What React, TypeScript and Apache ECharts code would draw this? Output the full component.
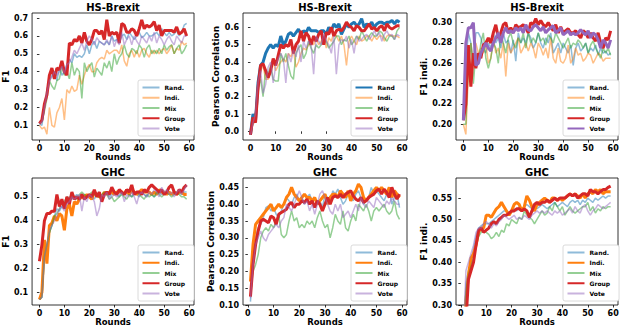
import React, { useEffect, useRef } from "react";
import * as echarts from "echarts";

const NAMES = ["Rand.", "Indi.", "Mix", "Group", "Vote"];
const NAMES_P2 = ["Rand", "Indi.", "Mix", "Group", "Vote"];
const COLORS = ["#1f77b4", "#ff7f0e", "#2ca02c", "#d62728", "#9467bd"];
const X_TICKS = [0, 10, 20, 30, 40, 50, 60];

// HS-Brexit F1 (rounds 0..59)
const hsF1Rand = [0.11,0.10,0.20,0.30,0.35,0.38,0.40,0.35,0.42,0.38,0.40,0.44,0.47,0.45,0.50,0.48,0.49,0.48,0.50,0.55,0.50,0.55,0.57,0.53,0.57,0.56,0.55,0.57,0.55,0.60,0.57,0.58,0.56,0.60,0.61,0.58,0.62,0.60,0.58,0.60,0.62,0.59,0.60,0.62,0.60,0.60,0.61,0.62,0.60,0.64,0.62,0.60,0.62,0.60,0.61,0.63,0.60,0.62,0.66,0.67];
const hsF1Indi = [0.10,0.08,0.09,0.05,0.20,0.10,0.09,0.17,0.20,0.25,0.13,0.30,0.28,0.32,0.29,0.30,0.38,0.33,0.38,0.42,0.44,0.40,0.40,0.45,0.47,0.48,0.47,0.52,0.50,0.51,0.52,0.52,0.50,0.55,0.46,0.43,0.50,0.52,0.48,0.52,0.48,0.52,0.53,0.50,0.48,0.52,0.50,0.52,0.50,0.52,0.53,0.50,0.52,0.55,0.50,0.53,0.52,0.57,0.55,0.56];
const hsF1Mix = [0.11,0.12,0.18,0.25,0.35,0.32,0.30,0.35,0.36,0.43,0.38,0.40,0.36,0.45,0.38,0.42,0.40,0.25,0.45,0.40,0.43,0.45,0.37,0.42,0.40,0.38,0.45,0.42,0.46,0.40,0.50,0.44,0.48,0.50,0.55,0.50,0.48,0.53,0.52,0.50,0.55,0.53,0.48,0.53,0.55,0.50,0.52,0.50,0.53,0.50,0.55,0.52,0.54,0.55,0.50,0.53,0.55,0.50,0.52,0.55];
const hsF1Group = [0.11,0.13,0.22,0.27,0.38,0.42,0.36,0.42,0.41,0.46,0.40,0.38,0.56,0.55,0.58,0.57,0.60,0.56,0.62,0.57,0.55,0.58,0.63,0.63,0.61,0.63,0.58,0.69,0.60,0.62,0.61,0.62,0.56,0.67,0.66,0.62,0.62,0.64,0.63,0.60,0.64,0.69,0.64,0.66,0.65,0.66,0.68,0.63,0.66,0.60,0.63,0.63,0.63,0.63,0.62,0.65,0.61,0.62,0.64,0.60];
const hsF1Vote = [0.11,0.12,0.20,0.28,0.35,0.37,0.40,0.38,0.40,0.43,0.39,0.44,0.45,0.48,0.52,0.50,0.53,0.56,0.52,0.57,0.60,0.58,0.55,0.59,0.57,0.56,0.55,0.58,0.55,0.60,0.54,0.58,0.55,0.62,0.55,0.58,0.60,0.55,0.60,0.57,0.55,0.60,0.58,0.56,0.60,0.57,0.62,0.56,0.60,0.58,0.55,0.58,0.60,0.57,0.55,0.60,0.58,0.56,0.60,0.60];

// HS-Brexit Pearson (rounds 0..59)
const hsPcRand = [-0.02,0.10,0.06,0.28,0.38,0.40,0.45,0.48,0.50,0.48,0.50,0.49,0.55,0.50,0.52,0.56,0.57,0.55,0.57,0.59,0.56,0.58,0.57,0.60,0.58,0.58,0.58,0.57,0.58,0.58,0.56,0.60,0.58,0.62,0.60,0.62,0.56,0.59,0.62,0.60,0.62,0.63,0.61,0.62,0.65,0.60,0.62,0.61,0.63,0.60,0.62,0.63,0.63,0.62,0.63,0.63,0.64,0.62,0.64,0.63];
const hsPcIndi = [-0.02,0.05,0.10,0.22,0.35,0.38,0.30,0.30,0.35,0.40,0.35,0.38,0.40,0.42,0.40,0.45,0.43,0.47,0.37,0.40,0.45,0.48,0.47,0.50,0.52,0.50,0.54,0.50,0.52,0.55,0.48,0.54,0.52,0.57,0.55,0.52,0.55,0.50,0.38,0.52,0.55,0.52,0.50,0.55,0.52,0.53,0.55,0.55,0.52,0.55,0.53,0.55,0.55,0.52,0.55,0.56,0.55,0.55,0.55,0.54];
const hsPcMix = [-0.02,0.05,0.10,0.25,0.30,0.20,0.36,0.33,0.38,0.30,0.29,0.29,0.45,0.40,0.45,0.38,0.32,0.30,0.45,0.48,0.50,0.42,0.45,0.52,0.48,0.45,0.50,0.48,0.50,0.55,0.52,0.48,0.50,0.52,0.55,0.55,0.50,0.53,0.52,0.55,0.50,0.52,0.55,0.53,0.58,0.55,0.52,0.55,0.57,0.55,0.55,0.58,0.57,0.54,0.52,0.55,0.55,0.53,0.58,0.60];
const hsPcGroup = [-0.02,0.08,0.05,0.25,0.38,0.39,0.35,0.31,0.35,0.42,0.38,0.44,0.50,0.48,0.50,0.49,0.53,0.45,0.50,0.52,0.58,0.52,0.57,0.55,0.50,0.55,0.52,0.56,0.58,0.50,0.57,0.56,0.60,0.55,0.58,0.59,0.58,0.60,0.63,0.61,0.60,0.58,0.61,0.60,0.58,0.58,0.60,0.62,0.59,0.60,0.58,0.60,0.61,0.58,0.62,0.60,0.59,0.60,0.61,0.61];
const hsPcVote = [-0.02,0.05,0.10,0.28,0.35,0.22,0.27,0.37,0.40,0.28,0.38,0.42,0.45,0.42,0.28,0.45,0.40,0.47,0.43,0.50,0.40,0.52,0.48,0.52,0.50,0.33,0.55,0.52,0.50,0.56,0.52,0.50,0.45,0.55,0.33,0.50,0.53,0.52,0.55,0.48,0.53,0.45,0.55,0.52,0.53,0.55,0.56,0.53,0.55,0.58,0.55,0.57,0.52,0.56,0.58,0.55,0.56,0.53,0.56,0.55];

// HS-Brexit F1 indi. (rounds 0..59)
const hsFiRand = [0.204,0.26,0.29,0.28,0.262,0.29,0.29,0.285,0.275,0.27,0.28,0.275,0.29,0.28,0.285,0.275,0.29,0.28,0.283,0.27,0.283,0.262,0.29,0.28,0.285,0.28,0.29,0.285,0.275,0.28,0.29,0.28,0.275,0.285,0.28,0.29,0.27,0.275,0.28,0.27,0.28,0.275,0.27,0.278,0.258,0.275,0.28,0.272,0.275,0.28,0.27,0.275,0.272,0.278,0.268,0.275,0.27,0.272,0.268,0.27];
const hsFiIndi = [0.2,0.19,0.25,0.28,0.26,0.28,0.27,0.275,0.27,0.28,0.26,0.265,0.285,0.27,0.275,0.265,0.28,0.247,0.28,0.27,0.275,0.28,0.285,0.27,0.275,0.28,0.272,0.28,0.275,0.265,0.28,0.275,0.268,0.275,0.265,0.285,0.265,0.26,0.275,0.262,0.26,0.265,0.278,0.26,0.265,0.275,0.268,0.27,0.262,0.265,0.27,0.268,0.26,0.265,0.27,0.268,0.262,0.265,0.265,0.265];
const hsFiMix = [0.2,0.2,0.26,0.28,0.24,0.27,0.26,0.28,0.29,0.265,0.255,0.265,0.28,0.275,0.26,0.29,0.28,0.27,0.285,0.29,0.28,0.275,0.285,0.28,0.29,0.275,0.29,0.28,0.285,0.28,0.29,0.282,0.285,0.278,0.288,0.285,0.28,0.29,0.285,0.28,0.275,0.28,0.285,0.275,0.28,0.278,0.283,0.28,0.275,0.28,0.27,0.278,0.282,0.275,0.27,0.265,0.275,0.27,0.275,0.268];
const hsFiGroup = [0.204,0.22,0.278,0.237,0.27,0.255,0.27,0.265,0.278,0.28,0.285,0.28,0.29,0.298,0.285,0.29,0.298,0.30,0.29,0.295,0.29,0.298,0.295,0.296,0.298,0.295,0.29,0.30,0.298,0.304,0.298,0.302,0.298,0.296,0.30,0.296,0.292,0.298,0.29,0.296,0.29,0.292,0.294,0.29,0.29,0.292,0.288,0.285,0.292,0.29,0.285,0.29,0.285,0.282,0.29,0.28,0.275,0.285,0.283,0.292];
const hsFiVote = [0.204,0.28,0.295,0.295,0.30,0.258,0.26,0.27,0.275,0.28,0.275,0.272,0.28,0.285,0.29,0.28,0.29,0.295,0.29,0.292,0.29,0.295,0.292,0.295,0.29,0.298,0.293,0.292,0.296,0.298,0.295,0.292,0.296,0.29,0.293,0.295,0.297,0.29,0.292,0.295,0.288,0.29,0.292,0.288,0.29,0.288,0.29,0.293,0.29,0.288,0.292,0.285,0.29,0.288,0.283,0.275,0.283,0.28,0.275,0.283];

// GHC F1 (rounds 0..59)
const ghcF1Rand = [0.07,0.08,0.25,0.30,0.35,0.38,0.42,0.45,0.44,0.46,0.45,0.48,0.50,0.49,0.50,0.51,0.49,0.50,0.51,0.50,0.50,0.51,0.49,0.51,0.52,0.50,0.51,0.52,0.50,0.51,0.52,0.51,0.50,0.52,0.51,0.52,0.51,0.50,0.52,0.51,0.50,0.52,0.51,0.50,0.52,0.51,0.50,0.51,0.52,0.51,0.52,0.51,0.52,0.51,0.52,0.51,0.52,0.51,0.52,0.52];
const ghcF1Indi = [0.07,0.10,0.32,0.22,0.38,0.39,0.42,0.40,0.43,0.42,0.36,0.45,0.47,0.42,0.48,0.47,0.49,0.50,0.50,0.51,0.50,0.49,0.52,0.51,0.50,0.50,0.52,0.51,0.52,0.52,0.51,0.52,0.52,0.52,0.51,0.53,0.51,0.53,0.52,0.51,0.52,0.53,0.52,0.52,0.52,0.51,0.52,0.51,0.53,0.52,0.52,0.51,0.52,0.51,0.52,0.51,0.52,0.52,0.51,0.51];
const ghcF1Mix = [0.07,0.08,0.25,0.30,0.35,0.38,0.42,0.43,0.45,0.48,0.48,0.50,0.49,0.51,0.50,0.49,0.51,0.52,0.51,0.50,0.51,0.52,0.51,0.50,0.50,0.51,0.52,0.51,0.49,0.50,0.48,0.49,0.50,0.51,0.50,0.49,0.51,0.50,0.51,0.52,0.51,0.50,0.49,0.51,0.50,0.51,0.50,0.52,0.51,0.50,0.51,0.52,0.51,0.50,0.51,0.52,0.51,0.50,0.50,0.49];
const ghcF1Group = [0.23,0.30,0.40,0.43,0.43,0.44,0.44,0.51,0.46,0.49,0.45,0.50,0.47,0.52,0.49,0.50,0.49,0.51,0.49,0.50,0.51,0.50,0.53,0.50,0.52,0.48,0.51,0.52,0.51,0.54,0.52,0.51,0.53,0.52,0.51,0.53,0.52,0.55,0.51,0.52,0.52,0.51,0.53,0.52,0.54,0.55,0.54,0.53,0.52,0.53,0.51,0.52,0.54,0.55,0.52,0.51,0.53,0.52,0.54,0.55];
const ghcF1Vote = [0.07,0.08,0.25,0.30,0.36,0.38,0.40,0.42,0.45,0.46,0.44,0.47,0.48,0.50,0.49,0.50,0.51,0.44,0.50,0.48,0.51,0.50,0.48,0.42,0.45,0.51,0.50,0.52,0.49,0.50,0.51,0.50,0.51,0.52,0.48,0.51,0.50,0.52,0.50,0.47,0.51,0.52,0.51,0.50,0.52,0.51,0.53,0.52,0.50,0.54,0.52,0.53,0.51,0.52,0.50,0.52,0.53,0.51,0.53,0.55];

// GHC Pearson (rounds 1..59)
const ghcPcRand = [0.11,0.22,0.30,0.33,0.34,0.36,0.39,0.395,0.38,0.39,0.37,0.36,0.38,0.40,0.42,0.41,0.40,0.42,0.43,0.41,0.42,0.40,0.42,0.43,0.41,0.42,0.40,0.41,0.39,0.43,0.42,0.40,0.44,0.43,0.445,0.42,0.40,0.41,0.43,0.42,0.41,0.43,0.44,0.42,0.40,0.41,0.42,0.45,0.43,0.44,0.43,0.42,0.41,0.43,0.44,0.40,0.42,0.43,0.39];
const ghcPcIndi = [0.17,0.28,0.34,0.35,0.36,0.37,0.38,0.39,0.40,0.38,0.39,0.40,0.39,0.40,0.42,0.43,0.45,0.43,0.42,0.41,0.42,0.43,0.42,0.42,0.41,0.42,0.40,0.41,0.42,0.43,0.40,0.42,0.43,0.43,0.42,0.44,0.43,0.42,0.44,0.41,0.43,0.44,0.46,0.45,0.42,0.41,0.42,0.43,0.44,0.45,0.44,0.45,0.44,0.43,0.45,0.42,0.44,0.43,0.42];
const ghcPcMix = [0.13,0.20,0.22,0.25,0.30,0.32,0.33,0.32,0.34,0.33,0.35,0.37,0.31,0.30,0.31,0.35,0.38,0.35,0.36,0.33,0.34,0.33,0.35,0.34,0.35,0.33,0.36,0.38,0.35,0.33,0.34,0.30,0.33,0.37,0.35,0.34,0.38,0.33,0.32,0.35,0.37,0.35,0.40,0.39,0.38,0.40,0.38,0.35,0.38,0.39,0.38,0.39,0.40,0.38,0.37,0.38,0.41,0.37,0.355];
const ghcPcGroup = [0.125,0.22,0.28,0.32,0.35,0.355,0.35,0.345,0.365,0.36,0.34,0.37,0.375,0.38,0.385,0.40,0.405,0.39,0.40,0.40,0.41,0.405,0.415,0.40,0.41,0.39,0.41,0.40,0.38,0.40,0.42,0.40,0.42,0.425,0.42,0.43,0.42,0.43,0.435,0.44,0.425,0.415,0.41,0.42,0.405,0.41,0.42,0.425,0.43,0.44,0.445,0.43,0.445,0.435,0.42,0.45,0.43,0.415,0.43];
const ghcPcVote = [0.12,0.22,0.28,0.30,0.32,0.30,0.29,0.31,0.32,0.33,0.34,0.33,0.35,0.36,0.40,0.39,0.38,0.40,0.42,0.44,0.42,0.40,0.41,0.38,0.40,0.37,0.40,0.43,0.44,0.42,0.40,0.38,0.37,0.40,0.38,0.40,0.36,0.37,0.38,0.36,0.38,0.40,0.38,0.42,0.40,0.39,0.41,0.40,0.39,0.42,0.41,0.40,0.39,0.41,0.40,0.42,0.41,0.40,0.40];

// GHC F1 indi. (rounds 1..59)
const ghcFiRand = [0.20,0.35,0.38,0.40,0.43,0.46,0.48,0.485,0.49,0.49,0.49,0.495,0.50,0.505,0.51,0.515,0.52,0.52,0.515,0.52,0.525,0.52,0.53,0.525,0.53,0.535,0.53,0.525,0.53,0.525,0.53,0.535,0.53,0.525,0.53,0.535,0.54,0.53,0.535,0.54,0.535,0.53,0.54,0.545,0.54,0.545,0.535,0.545,0.54,0.55,0.545,0.54,0.55,0.545,0.55,0.555,0.55,0.555,0.555];
const ghcFiIndi = [0.20,0.31,0.37,0.41,0.42,0.44,0.47,0.48,0.48,0.51,0.51,0.505,0.515,0.525,0.53,0.54,0.53,0.52,0.51,0.52,0.535,0.54,0.535,0.52,0.53,0.555,0.545,0.53,0.52,0.535,0.54,0.545,0.55,0.545,0.54,0.55,0.55,0.545,0.55,0.545,0.55,0.555,0.56,0.555,0.56,0.555,0.55,0.56,0.55,0.56,0.565,0.56,0.57,0.565,0.57,0.56,0.565,0.565,0.565];
const ghcFiMix = [0.20,0.33,0.37,0.39,0.41,0.44,0.46,0.47,0.475,0.47,0.465,0.455,0.46,0.47,0.46,0.475,0.47,0.49,0.485,0.50,0.495,0.49,0.505,0.50,0.52,0.51,0.505,0.50,0.49,0.50,0.51,0.52,0.51,0.515,0.53,0.52,0.54,0.53,0.52,0.53,0.51,0.52,0.53,0.52,0.515,0.52,0.525,0.53,0.53,0.54,0.52,0.53,0.515,0.525,0.52,0.53,0.525,0.53,0.53];
const ghcFiGroup = [0.12,0.26,0.36,0.38,0.40,0.44,0.475,0.48,0.47,0.475,0.48,0.49,0.495,0.49,0.50,0.505,0.51,0.51,0.515,0.52,0.52,0.525,0.525,0.52,0.525,0.52,0.505,0.52,0.535,0.54,0.535,0.54,0.54,0.545,0.54,0.545,0.55,0.545,0.55,0.55,0.55,0.555,0.56,0.555,0.56,0.55,0.555,0.56,0.56,0.555,0.57,0.565,0.565,0.56,0.565,0.57,0.57,0.575,0.578];
const ghcFiVote = [0.22,0.38,0.40,0.42,0.44,0.47,0.48,0.48,0.49,0.495,0.49,0.48,0.49,0.485,0.495,0.50,0.51,0.505,0.50,0.505,0.51,0.50,0.505,0.50,0.51,0.505,0.50,0.51,0.515,0.52,0.515,0.52,0.515,0.52,0.515,0.51,0.52,0.515,0.52,0.51,0.515,0.52,0.525,0.515,0.53,0.52,0.515,0.53,0.535,0.52,0.51,0.52,0.525,0.535,0.53,0.525,0.53,0.535,0.54];

const Y_TICKS_1 = [0.1, 0.2, 0.3, 0.4, 0.5, 0.6, 0.7];
const Y_TICKS_2 = [0.0, 0.1, 0.2, 0.3, 0.4, 0.5, 0.6];
const Y_TICKS_3 = [0.20, 0.22, 0.24, 0.26, 0.28, 0.30];
const Y_TICKS_4 = [0.1, 0.2, 0.3, 0.4, 0.5];
const Y_TICKS_5 = [0.10, 0.15, 0.20, 0.25, 0.30, 0.35, 0.40, 0.45];
const Y_TICKS_6 = [0.30, 0.35, 0.40, 0.45, 0.50, 0.55];

const FONT = "DejaVu Sans";

const PANELS = [
  { title: "HS-Brexit", yName: "F1", names: NAMES, data: [hsF1Rand, hsF1Indi, hsF1Mix, hsF1Group, hsF1Vote], thick: [3], start: 0,
    grid: { left: 32, top: 13, width: 162, height: 127 }, xMin: -2.95, xMax: 61.95, yMin: 0.018, yMax: 0.728, yTicks: Y_TICKS_1, dec: 1, nameGap: 20, legend: [138, 80] },
  { title: "HS-Brexit", yName: "Pearson Correlation", names: NAMES_P2, data: [hsPcRand, hsPcIndi, hsPcMix, hsPcGroup, hsPcVote], thick: [0, 3], start: 0,
    grid: { left: 243, top: 13, width: 164, height: 127 }, xMin: -2.95, xMax: 61.95, yMin: -0.05, yMax: 0.683, yTicks: Y_TICKS_2, dec: 1, nameGap: 20, legend: [351, 80] },
  { title: "HS-Brexit", yName: "F1 indi.", names: NAMES, data: [hsFiRand, hsFiIndi, hsFiMix, hsFiGroup, hsFiVote], thick: [3, 4], start: 0,
    grid: { left: 456, top: 13, width: 162, height: 127 }, xMin: -2.95, xMax: 61.95, yMin: 0.1845, yMax: 0.3095, yTicks: Y_TICKS_3, dec: 2, nameGap: 27, legend: [563, 80] },
  { title: "GHC", yName: "F1", names: NAMES, data: [ghcF1Rand, ghcF1Indi, ghcF1Mix, ghcF1Group, ghcF1Vote], thick: [1, 3], start: 0,
    grid: { left: 32, top: 178, width: 162, height: 127 }, xMin: -2.95, xMax: 61.95, yMin: 0.047, yMax: 0.579, yTicks: Y_TICKS_4, dec: 1, nameGap: 20, legend: [138, 245] },
  { title: "GHC", yName: "Pearson Correlation", names: NAMES, data: [ghcPcRand, ghcPcIndi, ghcPcMix, ghcPcGroup, ghcPcVote], thick: [1, 3], start: 1,
    grid: { left: 243, top: 178, width: 164, height: 127 }, xMin: -1.9, xMax: 61.9, yMin: 0.1, yMax: 0.478, yTicks: Y_TICKS_5, dec: 2, nameGap: 27, legend: [351, 245] },
  { title: "GHC", yName: "F1 indi.", names: NAMES, data: [ghcFiRand, ghcFiIndi, ghcFiMix, ghcFiGroup, ghcFiVote], thick: [1, 3], start: 1,
    grid: { left: 456, top: 178, width: 162, height: 127 }, xMin: -1.9, xMax: 61.9, yMin: 0.3, yMax: 0.597, yTicks: Y_TICKS_6, dec: 2, nameGap: 27, legend: [563, 245] },
];

function buildOption() {
  const grid: any[] = [];
  const xAxis: any[] = [];
  const yAxis: any[] = [];
  const series: any[] = [];
  const legend: any[] = [];
  const graphic: any[] = [];
  const tickStyle = { show: true, length: 2.5, inside: false, lineStyle: { color: "#000", width: 0.8 } };
  const labelStyle = { color: "#000", fontFamily: FONT, fontWeight: "bold", fontSize: 8 };

  PANELS.forEach((p, i) => {
    grid.push({ ...p.grid, show: true, borderColor: "#000", borderWidth: 0.8, backgroundColor: "transparent", containLabel: false });
    xAxis.push({
      type: "value", gridIndex: i, min: p.xMin, max: p.xMax,
      splitLine: { show: false }, axisLine: { show: false },
      axisTick: { ...tickStyle, customValues: X_TICKS },
      axisLabel: { ...labelStyle, margin: 4, customValues: X_TICKS, formatter: (v: number) => String(Math.round(v)) },
      name: "Rounds", nameLocation: "middle", nameGap: 12,
      nameTextStyle: { color: "#000", fontFamily: FONT, fontWeight: "bold", fontSize: 8.5 },
    });
    yAxis.push({
      type: "value", gridIndex: i, min: p.yMin, max: p.yMax,
      splitLine: { show: false }, axisLine: { show: false },
      axisTick: { ...tickStyle, customValues: p.yTicks },
      axisLabel: { ...labelStyle, margin: 4, customValues: p.yTicks, formatter: (v: number) => v.toFixed(p.dec) },
      name: p.yName, nameLocation: "middle", nameGap: p.nameGap, nameRotate: 90,
      nameTextStyle: { color: "#000", fontFamily: FONT, fontWeight: "bold", fontSize: 9 },
    });
    p.data.forEach((arr, k) => {
      const thick = p.thick.includes(k);
      series.push({
        type: "line",
        name: `${i}|${p.names[k]}`,
        xAxisIndex: i, yAxisIndex: i,
        data: arr.map((v, j) => [p.start + j, v]),
        symbol: "none", showSymbol: false, silent: true, clip: true,
        lineStyle: { color: COLORS[k], width: thick ? 3 : 1.5, opacity: thick ? 1 : 0.5 },
        itemStyle: { color: COLORS[k] },
        z: 2,
      });
    });
    legend.push({
      orient: "vertical", left: p.legend[0], top: p.legend[1],
      data: p.names.map((n) => `${i}|${n}`),
      formatter: (name: string) => name.split("|")[1],
      itemWidth: 17, itemHeight: 6, itemGap: 4.25,
      padding: [4.5, 9, 4.5, 3.5],
      itemStyle: { opacity: 0 },
      backgroundColor: "#fff", borderColor: "#d0d0d0", borderWidth: 0.8, borderRadius: 2,
      textStyle: { fontSize: 6, fontWeight: "bold", fontFamily: FONT, color: "#000", lineHeight: 6 },
      selectedMode: false,
    });
    graphic.push({
      type: "text",
      x: p.grid.left + p.grid.width / 2,
      y: p.grid.top - 6,
      style: { text: p.title, fill: "#000", font: `bold 10px "${FONT}"`, align: "center", verticalAlign: "middle" },
    });
  });

  return { animation: false, backgroundColor: "#fff", grid, xAxis, yAxis, series, legend, graphic };
}

export default function App() {
  const ref = useRef<HTMLDivElement>(null);
  useEffect(() => {
    document.body.style.margin = "0";
    const chart = echarts.init(ref.current!, null, { renderer: "svg" });
    chart.setOption(buildOption() as any);
    return () => chart.dispose();
  }, []);
  return <div ref={ref} style={{ width: 623, height: 330, position: "absolute", left: 0, top: 0 }} />;
}
